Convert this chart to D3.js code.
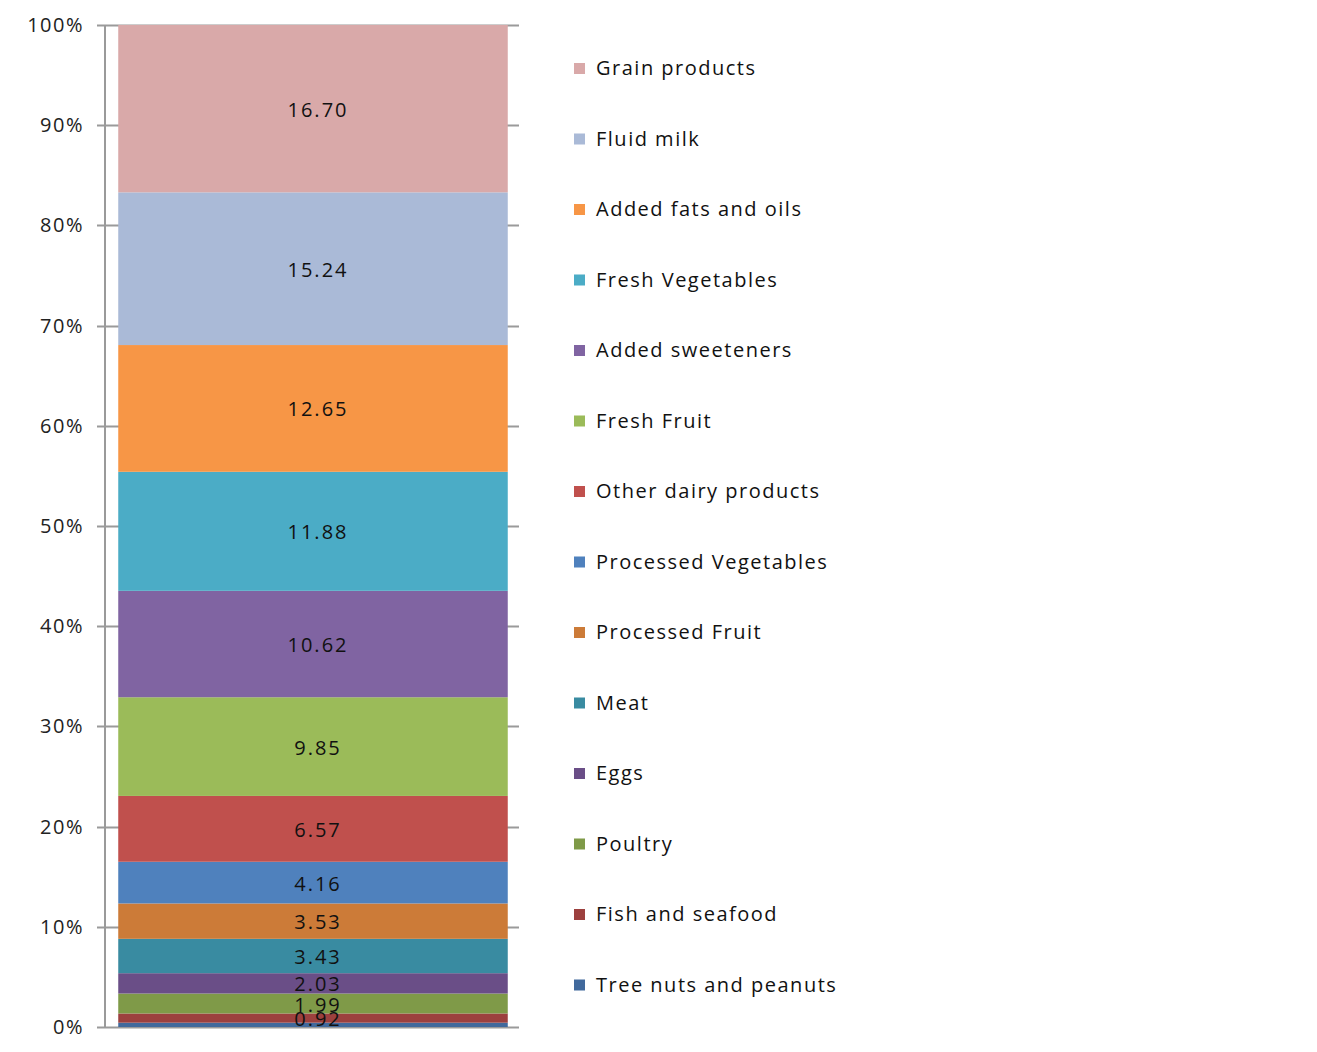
<!DOCTYPE html>
<html>
<head>
<meta charset="utf-8">
<script src="https://cdn.jsdelivr.net/npm/d3@7"></script>
<style>
  body { margin: 0; background: #fff; }
  svg { display: block; font-family: "Open Sans", sans-serif; }
</style>
</head>
<body>
<div id="chart"></div>
<script>
// categories, top of stack first (same order as legend)
const categories = [
    "Grain products", "Fluid milk", "Added fats and oils", "Fresh Vegetables",
    "Added sweeteners", "Fresh Fruit", "Other dairy products", "Processed Vegetables",
    "Processed Fruit", "Meat", "Eggs", "Poultry", "Fish and seafood", "Tree nuts and peanuts"
];
const values = [16.70, 15.24, 12.65, 11.88, 10.62, 9.85, 6.57, 4.16, 3.53, 3.43, 2.03, 1.99, 0.92, 0.43];
const colors = [
    "#d9a9a9", "#aabad7", "#f79646", "#4bacc6", "#8064a2", "#9bbb59", "#c0504d",
    "#4f81bd", "#cc7b38", "#398ba1", "#6a4e87", "#7f9a48", "#9c403e", "#41699c"
];
const yTicks = [0, 0.1, 0.2, 0.3, 0.4, 0.5, 0.6, 0.7, 0.8, 0.9, 1];

const width = 1317, height = 1052;
const svg = d3.select("#chart").append("svg").attr("width", width).attr("height", height);

const y = d3.scaleLinear().domain([0, 1]).range([1027, 25]);
const x = d3.scaleBand().domain(["all"]).range([105, 521]).paddingInner(0).paddingOuter(0.034);

// stack from the bottom up
const total = d3.sum(values);
const order = d3.range(categories.length).reverse();
let acc = 0;
const segs = order.map(i => {
    const s = { name: categories[i], value: values[i], color: colors[i], y0: acc / total };
    acc += values[i];
    s.y1 = acc / total;
    return s;
});

// gridlines behind the bar
svg.append("g").selectAll("line").data(yTicks).join("line")
    .attr("x1", 97).attr("x2", 519)
    .attr("y1", d => Math.round(y(d)) + 0.5).attr("y2", d => Math.round(y(d)) + 0.5)
    .attr("stroke", "#9a9a9a").attr("stroke-width", 2);

svg.append("g").selectAll("rect").data(segs).join("rect")
    .attr("x", x("all"))
    .attr("width", x.bandwidth())
    .attr("y", d => y(d.y1))
    .attr("height", d => y(d.y0) - y(d.y1))
    .attr("fill", d => d.color);

// y axis line + labels
svg.append("line")
    .attr("x1", 105).attr("x2", 105).attr("y1", y(1)).attr("y2", y(0))
    .attr("stroke", "#9a9a9a").attr("stroke-width", 2);

svg.append("g").selectAll("text").data(yTicks).join("text")
    .attr("x", 84).attr("y", d => y(d))
    .attr("dy", "0.35em")
    .attr("text-anchor", "end")
    .attr("font-size", 20)
    .attr("letter-spacing", 1.5)
    .attr("fill", "#222")
    .text(d3.format(".0%"));

// value labels (small ones overlap, as in the original)
svg.append("g").selectAll("text").data(segs.filter(d => d.value >= 0.5)).join("text")
    .attr("x", x("all") + x.bandwidth() / 2 + 5)
    .attr("y", d => y((d.y0 + d.y1) / 2) + 1)
    .attr("dy", "0.35em")
    .attr("text-anchor", "middle")
    .attr("font-size", 20)
    .attr("letter-spacing", 2)
    .attr("fill", "#111")
    .text(d => d.value.toFixed(2));

// legend
const leg = svg.append("g").selectAll("g").data(categories).join("g")
    .attr("transform", (d, i) => `translate(574, ${68 + i * 70.5})`);
leg.append("rect")
    .attr("x", 0).attr("y", -5).attr("width", 11).attr("height", 11)
    .attr("fill", (d, i) => colors[i]);
leg.append("text")
    .attr("x", 22).attr("dy", "0.35em")
    .attr("font-size", 20)
    .attr("letter-spacing", 1.5)
    .attr("fill", "#111")
    .text(d => d);
</script>
</body>
</html>
